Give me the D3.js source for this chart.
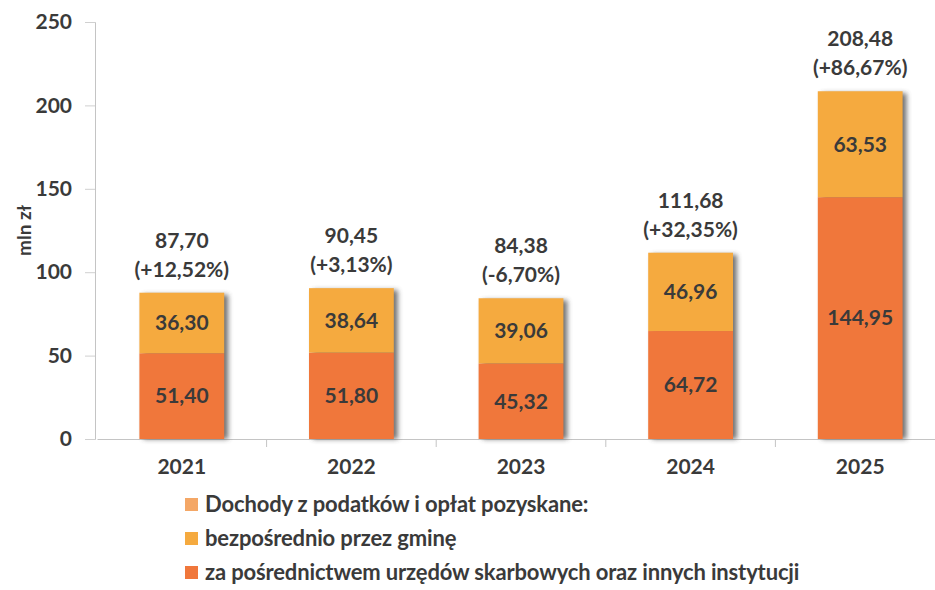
<!DOCTYPE html>
<html>
<head>
<meta charset="utf-8">
<script src="https://cdn.jsdelivr.net/npm/d3@7"></script>
<style>
  body { margin: 0; background: #fff; }
  svg { display: block; }
  svg text { font-family: Lato, "Open Sans", sans-serif; }
</style>
</head>
<body>
<div id="chart"></div>
<script>
// data
var years = ["2021", "2022", "2023", "2024", "2025"];
var viaOffices = [51.40, 51.80, 45.32, 64.72, 144.95];   // za pośrednictwem urzędów...
var direct = [36.30, 38.64, 39.06, 46.96, 63.53];        // bezpośrednio przez gminę
var totals = [87.70, 90.45, 84.38, 111.68, 208.48];
var changes = ["+12,52%", "+3,13%", "-6,70%", "+32,35%", "+86,67%"];
var yTicks = [0, 50, 100, 150, 200, 250];
var legendLabels = [
  "Dochody z podatków i opłat pozyskane:",
  "bezpośrednio przez gminę",
  "za pośrednictwem urzędów skarbowych oraz innych instytucji"
];

var width = 935, height = 590;
var colBottom = "#f0773b", colTop = "#f5aa3f", colHead = "#f4a766";
var textCol = "#3a3a3a";

var fmt = function(v) { return d3.format(".2f")(v).replace(".", ","); };

var x = d3.scaleBand()
    .domain(years)
    .range([97, 945])
    .paddingInner(0.5)
    .paddingOuter(0.25);

var y = d3.scaleLinear()
    .domain([0, 250])
    .range([439, 22]);

var svg = d3.select("#chart").append("svg")
    .attr("width", width)
    .attr("height", height);

var defs = svg.append("defs");
defs.append("filter").attr("id", "shadow")
    .attr("x", "-20%").attr("width", "140%")
    .append("feGaussianBlur").attr("stdDeviation", 2.5);

// axes
var yAxis = svg.append("g")
    .attr("transform", "translate(95,0)")
    .call(d3.axisLeft(y).tickValues(yTicks).tickSize(10).tickPadding(13).tickFormat(d3.format("d")));
yAxis.attr("font-family", null).attr("font-size", null);
yAxis.select(".domain").attr("stroke", "#c4c4c4");
yAxis.selectAll(".tick line").attr("stroke", "#d0d0d0");
yAxis.selectAll("text")
    .attr("fill", textCol)
    .style("font-size", "21px")
    .style("font-weight", "bold");

var xAxis = svg.append("g")
    .attr("transform", "translate(0," + y(0) + ")")
    .call(d3.axisBottom(x).tickSize(0).tickPadding(20));
xAxis.attr("font-family", null).attr("font-size", null);
xAxis.select(".domain").attr("stroke", "#c4c4c4");
xAxis.selectAll("text")
    .attr("fill", textCol)
    .style("font-size", "21px")
    .style("font-weight", "bold");

// category separators on the x axis
var gap = (x.step() - x.bandwidth()) / 2;
svg.append("g").selectAll("line")
    .data(years.slice(1))
    .enter().append("line")
    .attr("x1", function(d) { return x(d) - gap; })
    .attr("x2", function(d) { return x(d) - gap; })
    .attr("y1", y(0))
    .attr("y2", y(0) + 8)
    .attr("stroke", "#c4c4c4");

svg.append("text")
    .attr("transform", "translate(31," + y(125) + ") rotate(-90)")
    .attr("text-anchor", "middle")
    .attr("fill", textCol)
    .style("font-size", "19px")
    .style("font-weight", "bold")
    .text("mln zł");

// bars
var bars = svg.append("g").selectAll("g")
    .data(years)
    .enter().append("g");

bars.append("rect")
    .attr("x", function(d) { return x(d) + 4; })
    .attr("y", function(d, i) { return y(viaOffices[i] + direct[i]) + 2; })
    .attr("width", x.bandwidth())
    .attr("height", function(d, i) { return y(0) - y(viaOffices[i] + direct[i]) - 2; })
    .attr("fill", "#444")
    .attr("opacity", 0.75)
    .attr("filter", "url(#shadow)");

bars.append("rect")
    .attr("x", function(d) { return x(d); })
    .attr("y", function(d, i) { return y(viaOffices[i]); })
    .attr("width", x.bandwidth())
    .attr("height", function(d, i) { return y(0) - y(viaOffices[i]); })
    .attr("fill", colBottom);

bars.append("rect")
    .attr("x", function(d) { return x(d); })
    .attr("y", function(d, i) { return y(viaOffices[i] + direct[i]); })
    .attr("width", x.bandwidth())
    .attr("height", function(d, i) { return y(viaOffices[i]) - y(viaOffices[i] + direct[i]); })
    .attr("fill", colTop);

var cx = function(d) { return x(d) + x.bandwidth() / 2; };

bars.append("text")
    .attr("x", cx)
    .attr("y", function(d, i) { return (y(0) + y(viaOffices[i])) / 2; })
    .attr("dy", "0.35em")
    .attr("text-anchor", "middle")
    .attr("fill", textCol)
    .style("font-size", "21px")
    .style("font-weight", "bold")
    .text(function(d, i) { return fmt(viaOffices[i]); });

bars.append("text")
    .attr("x", cx)
    .attr("y", function(d, i) { return (y(viaOffices[i]) + y(viaOffices[i] + direct[i])) / 2; })
    .attr("dy", "0.35em")
    .attr("text-anchor", "middle")
    .attr("fill", textCol)
    .style("font-size", "21px")
    .style("font-weight", "bold")
    .text(function(d, i) { return fmt(direct[i]); });

bars.append("text")
    .attr("x", cx)
    .attr("y", function(d, i) { return y(viaOffices[i] + direct[i]) - 45; })
    .attr("text-anchor", "middle")
    .attr("fill", textCol)
    .style("font-size", "21px")
    .style("font-weight", "bold")
    .text(function(d, i) { return fmt(totals[i]); });

bars.append("text")
    .attr("x", cx)
    .attr("y", function(d, i) { return y(viaOffices[i] + direct[i]) - 16; })
    .attr("text-anchor", "middle")
    .attr("fill", textCol)
    .style("font-size", "21px")
    .style("font-weight", "bold")
    .text(function(d, i) { return "(" + changes[i] + ")"; });

// legend
var legend = svg.append("g").selectAll("g")
    .data(legendLabels)
    .enter().append("g")
    .attr("transform", function(d, i) { return "translate(185," + (504 + i * 34) + ")"; });

legend.append("rect")
    .attr("x", 0).attr("y", -6)
    .attr("width", 13).attr("height", 13)
    .attr("fill", function(d, i) { return [colHead, colTop, colBottom][i]; });

legend.append("text")
    .attr("x", 20)
    .attr("dy", "0.35em")
    .attr("fill", textCol)
    .style("font-size", "22px")
    .style("font-weight", "bold")
    .style("letter-spacing", "-0.15px")
    .text(function(d) { return d; });
</script>
</body>
</html>
